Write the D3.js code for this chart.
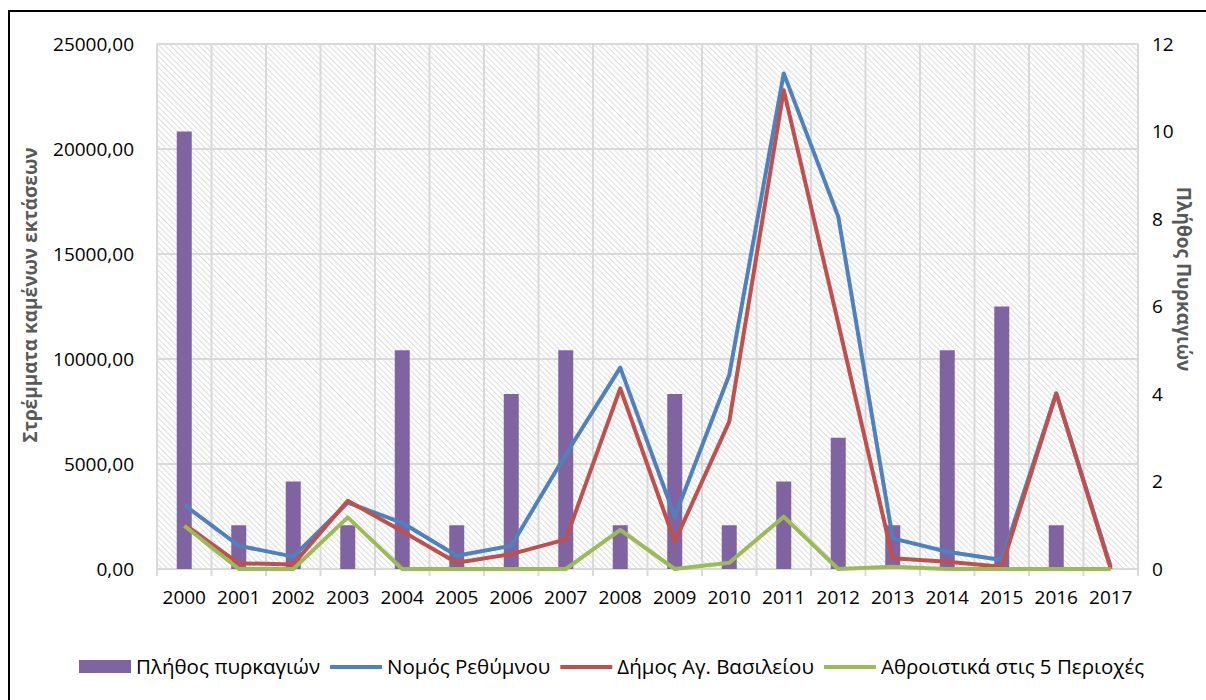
<!DOCTYPE html>
<html>
<head>
<meta charset="utf-8">
<script src="https://cdn.jsdelivr.net/npm/d3@7"></script>
<style>
  body { margin: 0; background: #fff; }
  svg { display: block; font-family: "Open Sans", "Noto Sans", sans-serif; }
</style>
</head>
<body>
<svg id="chart"></svg>
<script>
// years on the x axis
const years = ["2000","2001","2002","2003","2004","2005","2006","2007","2008",
               "2009","2010","2011","2012","2013","2014","2015","2016","2017"];
// number of fires (right axis, bars)
const fires = [10, 1, 2, 1, 5, 1, 4, 5, 1, 4, 1, 2, 3, 1, 5, 6, 1, 0];
// burnt area in stremmata (left axis, lines)
const nomosRethymnou = [3050, 1110, 590, 3160, 2200, 630, 1110, 5450, 9590,
                        2490, 9240, 23600, 16780, 1460, 820, 430, 8360, 100];
const dimosAgVasileiou = [2140, 270, 220, 3250, 1800, 300, 710, 1410, 8600,
                          1300, 7020, 22800, 11700, 510, 350, 110, 8360, 0];
const athroistika5 = [2060, 0, 0, 2460, 0, 0, 0, 0, 1860,
                      0, 300, 2490, 0, 110, 0, 0, 0, 0];
const leftTicks = [0, 5000, 10000, 15000, 20000, 25000];
const rightTicks = [0, 2, 4, 6, 8, 10, 12];

const seriesNames = ["Πλήθος πυρκαγιών", "Νομός Ρεθύμνου", "Δήμος Αγ. Βασιλείου", "Αθροιστικά στις 5 Περιοχές"];

const W = 1206, H = 700;
const margin = {left: 157, right: 68, top: 44, bottom: 131};
const width = W - margin.left - margin.right;
const height = H - margin.top - margin.bottom;

const colors = {bar: "#8064A2", blue: "#4F81BD", red: "#C0504D", green: "#9BBB59"};
const gridColor = "#d9d9d9";

const root = d3.select("#chart").attr("width", W).attr("height", H);

// hatch pattern for plot background
const defs = root.append("defs");
const pat = defs.append("pattern")
    .attr("id", "hatch")
    .attr("patternUnits", "userSpaceOnUse")
    .attr("width", 4).attr("height", 4)
    .attr("patternTransform", "rotate(-45)");
pat.append("line")
    .attr("x1", 0).attr("y1", 0).attr("x2", 0).attr("y2", 4)
    .attr("stroke", "#d2d2d2").attr("stroke-width", 1.5);

// outer frame (runs off the bottom/right like the original)
root.append("rect")
    .attr("x", 9).attr("y", 11)
    .attr("width", 1400).attr("height", 900)
    .attr("fill", "none").attr("stroke", "#000").attr("stroke-width", 2);

const svg = root.append("g")
    .attr("transform", "translate(" + margin.left + "," + margin.top + ")");

const x = d3.scaleBand().domain(years).range([0, width]);
const yLeft = d3.scaleLinear().domain([0, 25000]).range([height, 0]);
const yRight = d3.scaleLinear().domain([0, 12]).range([height, 0]);

svg.append("rect")
    .attr("width", width).attr("height", height)
    .attr("fill", "url(#hatch)");

// horizontal gridlines
svg.selectAll(".hgrid")
    .data(leftTicks)
    .join("line")
    .attr("x1", 0).attr("x2", width)
    .attr("y1", d => yLeft(d)).attr("y2", d => yLeft(d))
    .attr("stroke", gridColor).attr("stroke-width", 2);

// vertical gridlines at category boundaries, with small ticks below the axis
const bounds = years.map(d => x(d)).concat([width]);
svg.selectAll(".vgrid")
    .data(bounds)
    .join("line")
    .attr("x1", d => d).attr("x2", d => d)
    .attr("y1", 0).attr("y2", height + 7)
    .attr("stroke", gridColor).attr("stroke-width", 2);

// bars
const barW = 15;
svg.selectAll(".bar")
    .data(fires)
    .join("rect")
    .attr("x", (d, i) => x(years[i]) + x.bandwidth() / 2 - barW / 2)
    .attr("y", d => yRight(d))
    .attr("width", barW)
    .attr("height", d => height - yRight(d))
    .attr("fill", colors.bar);

// lines
const line = d3.line()
    .x((d, i) => x(years[i]) + x.bandwidth() / 2)
    .y(d => yLeft(d));

[[nomosRethymnou, colors.blue], [dimosAgVasileiou, colors.red], [athroistika5, colors.green]]
  .forEach(([vals, c]) => {
    svg.append("path")
        .datum(vals)
        .attr("fill", "none")
        .attr("stroke", c)
        .attr("stroke-width", 4)
        .attr("stroke-linejoin", "round")
        .attr("d", line);
  });

// left axis
const tickFont = "19px";
const fmt = d => d3.format(".2f")(d).replace(".", ",");
svg.append("g")
    .call(d3.axisLeft(yLeft).tickValues(leftTicks).tickFormat(fmt).tickSize(0).tickPadding(23))
    .call(g => g.select(".domain").remove())
    .selectAll("text").attr("font-size", tickFont).attr("fill", "#000")
    .attr("font-family", "'Open Sans', 'Noto Sans', sans-serif");

// right axis
svg.append("g")
    .attr("transform", "translate(" + width + ",0)")
    .call(d3.axisRight(yRight).tickValues(rightTicks).tickSize(0).tickPadding(14))
    .call(g => g.select(".domain").remove())
    .selectAll("text").attr("font-size", tickFont).attr("fill", "#000")
    .attr("font-family", "'Open Sans', 'Noto Sans', sans-serif");

// bottom axis
svg.append("g")
    .attr("transform", "translate(0," + height + ")")
    .call(d3.axisBottom(x).tickSize(0).tickPadding(22))
    .call(g => g.select(".domain").remove())
    .selectAll("text").attr("font-size", tickFont).attr("fill", "#000")
    .attr("font-family", "'Open Sans', 'Noto Sans', sans-serif");

// axis titles
root.append("text")
    .attr("transform", "translate(37,295) rotate(-90)")
    .attr("text-anchor", "middle")
    .attr("font-size", "19px").attr("font-weight", "bold")
    .attr("fill", "#595959")
    .text("Στρέμματα καμένων εκτάσεων");

root.append("text")
    .attr("transform", "translate(1177,279) rotate(90)")
    .attr("text-anchor", "middle")
    .attr("font-size", "19px").attr("font-weight", "bold")
    .attr("fill", "#595959")
    .text("Πλήθος Πυρκαγιών");

// legend
const legend = root.append("g").attr("transform", "translate(79,667)");
const legColors = [colors.bar, colors.blue, colors.red, colors.green];
let lx = 0;
seriesNames.forEach((name, i) => {
    const item = legend.append("g").attr("transform", "translate(" + lx + ",0)");
    if (i === 0) {
        item.append("rect").attr("x", 0).attr("y", -7).attr("width", 52).attr("height", 13)
            .attr("fill", legColors[i]);
    } else {
        item.append("line").attr("x1", 0).attr("x2", 52).attr("y1", 0).attr("y2", 0)
            .attr("stroke", legColors[i]).attr("stroke-width", 4);
    }
    const t = item.append("text")
        .attr("x", 57).attr("dy", "0.35em")
        .attr("font-size", "20.5px").attr("fill", "#000")
        .text(name);
    lx += 57 + t.node().getComputedTextLength() + 10;
});
</script>
</body>
</html>
